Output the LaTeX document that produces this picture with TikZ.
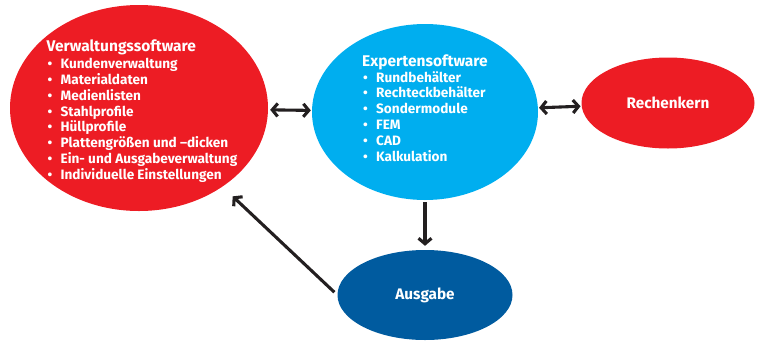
\documentclass[tikz,border=0pt]{standalone}
\usepackage{fontspec}
\setmainfont{Fira Sans}
\usepackage{tikz}
\usetikzlibrary{shapes.geometric,arrows.meta}

\definecolor{vred}{RGB}{237,28,36}
\definecolor{eblue}{RGB}{0,174,239}
\definecolor{ablue}{RGB}{0,91,159}
\definecolor{arrgray}{RGB}{35,31,32}

\newcommand{\itm}[1]{\makebox[14pt][l]{\hspace{1pt}\textbullet}#1}
\newcommand{\ttl}[1]{{\fontsize{15.5}{16}\selectfont #1}}

\begin{document}
\begin{tikzpicture}[x=1pt, y=-1pt,
		blob/.style={ellipse, inner sep=0pt, text=white, align=left, font=\bfseries\fontsize{13.6}{15.8}\selectfont},
		list/.style={inner sep=0pt, text=white, align=left, font=\bfseries\fontsize{13.6}{15.8}\selectfont},
		big/.style={font=\bfseries\fontsize{15.3}{16}\selectfont},
		arr/.style={draw=arrgray, line width=3.1pt, -{Straight Barb[length=5.5pt,width=13pt]}},
		dbl/.style={arr, {Straight Barb[length=5.5pt,width=13pt]}-{Straight Barb[length=5.5pt,width=13pt]}}]
		\useasboundingbox (0,0) rectangle (758,341);
		% the four parts
		\node[blob, fill=vred, minimum width=258pt, minimum height=206pt] (verw) at (139,108) {};
		\node[list] (verwtxt) at (142,111)
			{\ttl{Verwaltungssoftware}\\[1.5pt]
			\itm{Kundenverwaltung}\\ \itm{Materialdaten}\\ \itm{Medienlisten}\\ \itm{Stahlprofile}\\
			\itm{Hüllprofile}\\ \itm{Plattengrößen und –dicken}\\ \itm{Ein- und Ausgabeverwaltung}\\
			\itm{Individuelle Einstellungen}};
		\node[blob, fill=eblue, minimum width=226pt, minimum height=176pt] (expert) at (425,112) {};
		\node[list] (experttxt) at (425,108)
			{\ttl{Expertensoftware}\\
			\itm{Rundbehälter}\\ \itm{Rechteckbehälter}\\ \itm{Sondermodule}\\ \itm{FEM}\\
			\itm{CAD}\\ \itm{Kalkulation}};
		\node[blob, big, fill=vred, minimum width=173pt, minimum height=91pt] (rechen) at (668,103) {Rechenkern};
		\node[blob, big, fill=ablue, minimum width=175pt, minimum height=90pt] (ausg) at (425,295) {Ausgabe};
		% connections
		\draw[dbl, shorten <=2pt, shorten >=1pt] (verw) -- (expert);
		\draw[dbl, shorten <=1pt, shorten >=1pt] (expert) -- (rechen);
		\draw[arr, shorten <=2pt, shorten >=4pt] (expert) -- (ausg);
		\draw[arr, shorten <=4pt, shorten >=14pt] (ausg.west) -- (verw);
\end{tikzpicture}
\end{document}
